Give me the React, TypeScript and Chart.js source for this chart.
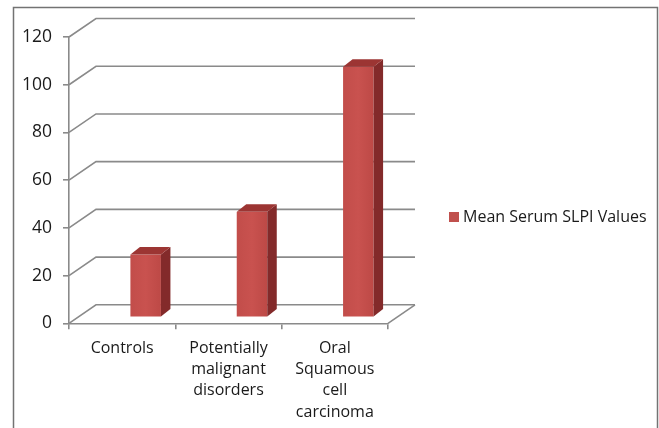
import React, { useEffect, useRef } from "react";
import { Chart, registerables } from "chart.js";

Chart.register(...registerables);

// Study groups and their mean serum SLPI values
const categories: (string | string[])[] = [
  "Controls",
  ["Potentially", "malignant", "disorders"],
  ["Oral", "Squamous", "cell", "carcinoma"],
];
const slpiValues = [26.3, 44.2, 105];
const seriesLabel = "Mean Serum SLPI Values";
const yTicks = [0, 20, 40, 60, 80, 100, 120];

// Oblique projection used for the pseudo-3D look
const WALL_DX = 27;
const WALL_DY = -18.5;
const BAR_SHIFT_X = 23.5;
const BAR_SHIFT_Y = -6;
const BAR_DEPTH_X = 9.5;
const BAR_DEPTH_Y = -7.5;

const GRID = "#8a8a8a";
const FONT = "'Open Sans', Lato, 'Liberation Sans', sans-serif";

const threeD = {
  id: "threeD",
  beforeDatasetsDraw(chart: any) {
    const { ctx, chartArea } = chart;
    const y = chart.scales.y;
    ctx.save();
    ctx.strokeStyle = GRID;
    ctx.lineWidth = 1.6;
    for (const v of yTicks) {
      const py = y.getPixelForValue(v);
      ctx.beginPath();
      ctx.moveTo(chartArea.left, py);
      ctx.lineTo(chartArea.left + WALL_DX, py + WALL_DY);
      ctx.lineTo(chartArea.right + WALL_DX, py + WALL_DY);
      ctx.stroke();
    }
    // right edge of the floor
    const py0 = y.getPixelForValue(0);
    ctx.beginPath();
    ctx.moveTo(chartArea.right, py0);
    ctx.lineTo(chartArea.right + WALL_DX, py0 + WALL_DY);
    ctx.stroke();
    ctx.restore();
  },
  afterDatasetsDraw(chart: any) {
    const { ctx } = chart;
    const meta = chart.getDatasetMeta(0);
    ctx.save();
    meta.data.forEach((el: any) => {
      const w = el.width;
      const x0 = el.x - w / 2 + BAR_SHIFT_X;
      const x1 = el.x + w / 2 + BAR_SHIFT_X;
      const yTop = el.y + BAR_SHIFT_Y;
      const yBot = el.base + BAR_SHIFT_Y;

      // front face
      const g = ctx.createLinearGradient(x0, 0, x1, 0);
      g.addColorStop(0, "#c24d4a");
      g.addColorStop(0.5, "#c9524f");
      g.addColorStop(1, "#bd4946");
      ctx.fillStyle = g;
      ctx.fillRect(x0, yTop, x1 - x0, yBot - yTop);

      // side face
      ctx.fillStyle = "#832a2a";
      ctx.beginPath();
      ctx.moveTo(x1, yTop);
      ctx.lineTo(x1 + BAR_DEPTH_X, yTop + BAR_DEPTH_Y);
      ctx.lineTo(x1 + BAR_DEPTH_X, yBot + BAR_DEPTH_Y);
      ctx.lineTo(x1, yBot);
      ctx.closePath();
      ctx.fill();

      // top face
      ctx.fillStyle = "#9c3533";
      ctx.beginPath();
      ctx.moveTo(x0, yTop);
      ctx.lineTo(x1, yTop);
      ctx.lineTo(x1 + BAR_DEPTH_X, yTop + BAR_DEPTH_Y);
      ctx.lineTo(x0 + BAR_DEPTH_X, yTop + BAR_DEPTH_Y);
      ctx.closePath();
      ctx.fill();
    });
    ctx.restore();
  },
  afterDraw(chart: any) {
    const { ctx, width, height } = chart;
    ctx.save();
    // legend
    ctx.fillStyle = "#c0504d";
    ctx.fillRect(449, 212, 10, 10);
    ctx.fillStyle = "#1a1a1a";
    ctx.font = `16px ${FONT}`;
    ctx.textBaseline = "middle";
    ctx.textAlign = "left";
    ctx.fillText(seriesLabel, 463, 217);
    // frame
    ctx.strokeStyle = "#737373";
    ctx.lineWidth = 1.5;
    ctx.beginPath();
    ctx.moveTo(13.5, height);
    ctx.lineTo(13.5, 7.5);
    ctx.lineTo(width - 1.5, 7.5);
    ctx.lineTo(width - 1.5, height);
    ctx.stroke();
    ctx.restore();
  },
};

export default function App() {
  const ref = useRef<HTMLCanvasElement | null>(null);

  useEffect(() => {
    if (!ref.current) return;
    const chart = new Chart(ref.current, {
      type: "bar",
      data: {
        labels: categories,
        datasets: [
          {
            label: seriesLabel,
            data: slpiValues,
            backgroundColor: "rgba(0,0,0,0)",
            borderWidth: 0,
            barPercentage: 0.287,
            categoryPercentage: 1,
          },
        ],
      },
      options: {
        responsive: false,
        animation: false,
        events: [],
        layout: { padding: { left: 0, top: 37, right: 271, bottom: 0 } },
        plugins: { legend: { display: false }, tooltip: { enabled: false } },
        scales: {
          x: {
            afterFit: (s: any) => {
              s.height = 104.7;
            },
            grid: {
              offset: true,
              drawOnChartArea: false,
              drawTicks: true,
              tickLength: 6,
              color: GRID,
              lineWidth: 1.6,
            },
            border: { display: true, color: GRID, width: 1.6 },
            ticks: {
              color: "#1a1a1a",
              padding: 8,
              maxRotation: 0,
              autoSkip: false,
              font: { family: FONT, size: 16, lineHeight: 1.34 },
            },
          },
          y: {
            min: 0,
            max: 120,
            afterFit: (s: any) => {
              s.width = 69;
            },
            grid: {
              drawOnChartArea: false,
              drawTicks: true,
              tickLength: 6,
              color: GRID,
              lineWidth: 1.6,
            },
            border: { display: true, color: GRID, width: 1.6 },
            ticks: {
              stepSize: 20,
              color: "#1a1a1a",
              padding: 11,
              font: { family: FONT, size: 17.5 },
            },
          },
        },
      },
      plugins: [threeD],
    });
    return () => chart.destroy();
  }, []);

  return (
    <div style={{ position: "absolute", left: 0, top: 0, width: 659, height: 428, background: "#fff" }}>
      <canvas ref={ref} width={659} height={428} style={{ display: "block" }} />
    </div>
  );
}
